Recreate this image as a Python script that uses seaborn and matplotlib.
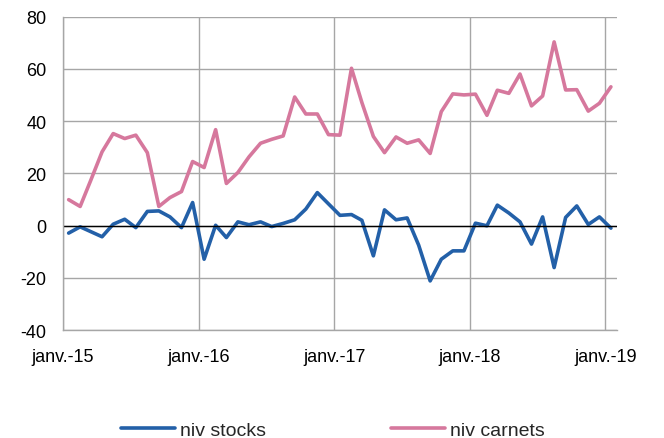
import matplotlib
matplotlib.use("Agg")
import matplotlib.pyplot as plt
import numpy as np
import pandas as pd
import seaborn as sns

# monthly values, janv. 2015 -> janv. 2019
niv_stocks = [
    -2.9, -0.5, -2.3, -4.3, 0.5, 2.4, -0.8, 5.4, 5.6, 3.3, -0.8, 8.8,
    -12.9, 0.1, -4.6, 1.4, 0.3, 1.4, -0.4, 0.8, 2.2, 6.3, 12.6, 8.3,
    3.9, 4.2, 2.0, -11.6, 6.0, 2.2, 2.9, -7.5, -21.2, -12.9, -9.7, -9.7,
    0.9, -0.1, 7.8, 4.8, 1.4, -7.1, 3.3, -16.1, 3.1, 7.5, 0.4, 3.3,
    -1.0,
]
niv_carnets = [
    9.9, 7.3, 17.1, 28.2, 35.2, 33.3, 34.6, 27.9, 7.3, 10.7, 13.0, 24.5,
    22.2, 36.7, 16.1, 20.3, 26.3, 31.5, 33.0, 34.3, 49.2, 42.7, 42.7, 34.8,
    34.6, 60.2, 47.1, 34.1, 27.9, 33.9, 31.5, 32.8, 27.6, 43.6, 50.4, 50.0,
    50.3, 42.2, 51.8, 50.6, 58.0, 45.8, 49.6, 70.3, 51.9, 52.0, 43.8, 46.8,
    53.1,
]
series_names = ["niv stocks", "niv carnets"]
colors = ["#2360a8", "#d6789d"]
tick_labels = ["janv.-15", "janv.-16", "janv.-17", "janv.-18", "janv.-19"]

months = pd.date_range("2015-01-01", periods=len(niv_stocks), freq="MS")
# Excel date axis puts each point in the middle of its month
dates = months + pd.Timedelta(days=15)

df = pd.DataFrame({
    "date": np.concatenate([dates, dates]),
    "value": niv_stocks + niv_carnets,
    "serie": [series_names[0]] * len(dates) + [series_names[1]] * len(dates),
})

sns.set_style("white")
plt.rcParams["font.family"] = ["Liberation Sans", "DejaVu Sans"]
plt.rcParams["axes.unicode_minus"] = False

fig = plt.figure(figsize=(6.64, 4.39), dpi=100)
ax = fig.add_axes([0.095, 0.246, 0.834, 0.714])

sns.lineplot(
    data=df, x="date", y="value", hue="serie",
    palette=colors, linewidth=2.6, ax=ax, legend=False,
)

ax.set_xlim(pd.Timestamp("2015-01-01"), pd.Timestamp("2019-02-01"))
ax.set_ylim(-40, 80)
ax.set_yticks(range(-40, 81, 20))

year_ticks = pd.date_range("2015-01-01", "2019-01-01", freq="YS")
ax.set_xticks(year_ticks)
ax.set_xticklabels(tick_labels)

ax.grid(True, color="#a6a6a6", linewidth=1)
ax.axhline(0, color="black", linewidth=1)
ax.set_axisbelow(True)

for side in ["top", "right"]:
    ax.spines[side].set_visible(False)
for side in ["left", "bottom"]:
    ax.spines[side].set_color("#a6a6a6")
    ax.spines[side].set_linewidth(1)

ax.tick_params(axis="both", length=0, labelsize=13, colors="black")
ax.tick_params(axis="x", pad=13)
ax.tick_params(axis="y", pad=12)
ax.set_xlabel("")
ax.set_ylabel("")

handles = [plt.Line2D([], [], color=c, linewidth=2.6) for c in colors]
fig.legend(
    handles, series_names,
    loc="lower center", bbox_to_anchor=(0.501, -0.042),
    ncol=2, frameon=False, fontsize=14,
    handlelength=2.8, handletextpad=0.25, columnspacing=6.4,
)

fig.savefig("out.png", dpi=100)
plt.close(fig)
